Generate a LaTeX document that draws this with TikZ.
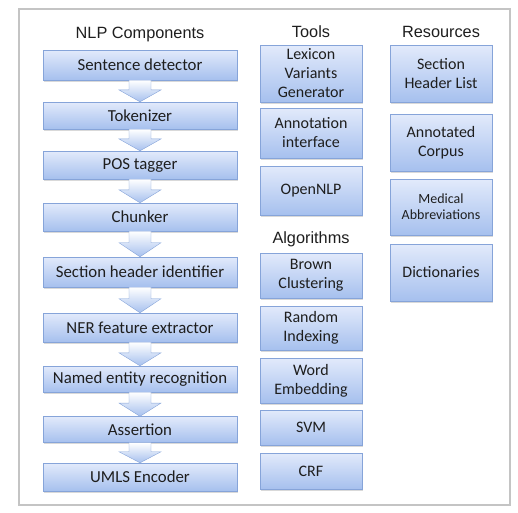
\documentclass[tikz,border=0pt]{standalone}
\usepackage{fontspec}
\setmainfont{Carlito}
\newfontfamily\headfont{Liberation Sans}
\usetikzlibrary{positioning, calc, shadows}

\definecolor{boxtop}{HTML}{E2EAFB}
\definecolor{boxbot}{HTML}{A6C0EE}
\definecolor{boxline}{HTML}{86A4D9}
\definecolor{framegray}{HTML}{C4C4C4}
\definecolor{ink}{HTML}{1E1E1E}

\begin{document}
\begin{tikzpicture}[x=1pt, y=-1pt, node distance=50pt, on grid,
  comp/.style={draw=boxline, top color=boxtop, bottom color=boxbot, text=ink,
    minimum width=194pt, minimum height=28pt, inner sep=0pt,
    font=\fontsize{16.8}{19}\selectfont,
    drop shadow={opacity=0.3, shadow xshift=1pt, shadow yshift=-1.5pt}},
  tool/.style={comp, minimum width=102pt, align=center, font=\fontsize{16}{19}\selectfont},
  title/.style={text=ink, font=\headfont\fontsize{16.3}{19}\selectfont},
  flow/.style={draw=boxline, top color=white, bottom color=boxbot,
    to path={
      ($(\tikztostart.south)+(-11,0)$)
      -- ($(\tikztostart.south)!0.45!(\tikztotarget.north)+(-11,0)$)
      -- ($(\tikztostart.south)!0.45!(\tikztotarget.north)+(-21,0)$)
      -- (\tikztotarget.north)
      -- ($(\tikztostart.south)!0.45!(\tikztotarget.north)+(21,0)$)
      -- ($(\tikztostart.south)!0.45!(\tikztotarget.north)+(11,0)$)
      -- ($(\tikztostart.south)+(11,0)$) -- cycle}}]
  \useasboundingbox (0,0) rectangle (518,512);
  \draw[framegray, line width=2pt] (19,9) rectangle (510,505);

  % NLP components
  \node[comp, minimum height=30pt] (sd) at (140,65) {Sentence detector};
  \node[comp, minimum height=27pt] (tok) [below=50.5pt of sd] {Tokenizer};
  \node[comp] (pos) [below=49.5pt of tok] {POS tagger};
  \node[comp] (chunk) [below=52pt of pos] {Chunker};
  \node[comp, minimum height=30pt] (shi) [below=55pt of chunk] {Section header identifier};
  \node[comp, minimum height=29pt] (nerfe) [below=55.5pt of shi] {NER feature extractor};
  \node[comp, minimum height=26pt] (ner) [below=51.5pt of nerfe] {Named entity recognition};
  \node[comp, minimum height=26pt] (assert) [below=50.5pt of ner] {Assertion};
  \node[comp] (umls) [below=47.5pt of assert] {UMLS Encoder};
  \node[title] (nlp) [above=31pt of sd] {NLP Components};

  % tools
  \node[tool, minimum height=57pt] (lvg) at (311,73.5) {Lexicon\\Variants\\Generator};
  \node[tool, minimum height=50pt] (ann) [below=59.5pt of lvg] {Annotation\\interface};
  \node[tool, minimum height=49pt] (onlp) [below=57.5pt of ann] {OpenNLP};
  \node[title] (tools) [above=41.5pt of lvg] {Tools};

  % algorithms
  \node[tool, minimum height=45pt] (brown) [below=85pt of onlp] {Brown\\Clustering};
  \node[tool, minimum height=44pt] (ri) [below=52.5pt of brown] {Random\\Indexing};
  \node[tool, minimum height=45pt] (we) [below=52.5pt of ri] {Word\\Embedding};
  \node[tool, minimum height=35pt] (svm) [below=47pt of we] {SVM};
  \node[tool, minimum height=36pt] (crf) [below=43.5pt of svm] {CRF};
  \node[title] (algo) [above=36.5pt of brown] {Algorithms};

  % resources
  \node[tool, minimum height=57pt] (shl) at (441,73.5) {Section\\Header List};
  \node[tool, minimum height=57pt] (corpus) [below=69pt of shl] {Annotated\\Corpus};
  \node[tool, minimum height=56pt, font=\fontsize{14}{16}\selectfont] (abbr) [below=64.5pt of corpus] {Medical\\Abbreviations};
  \node[tool, minimum height=57pt] (dict) [below=65.5pt of abbr] {Dictionaries};
  \node[title] (res) [above=41.5pt of shl] {Resources};

  \path
  (sd) edge[flow] (tok)
  (tok) edge[flow] (pos)
  (pos) edge[flow] (chunk)
  (chunk) edge[flow] (shi)
  (shi) edge[flow] (nerfe)
  (nerfe) edge[flow] (ner)
  (ner) edge[flow] (assert)
  (assert) edge[flow] (umls);
\end{tikzpicture}
\end{document}
